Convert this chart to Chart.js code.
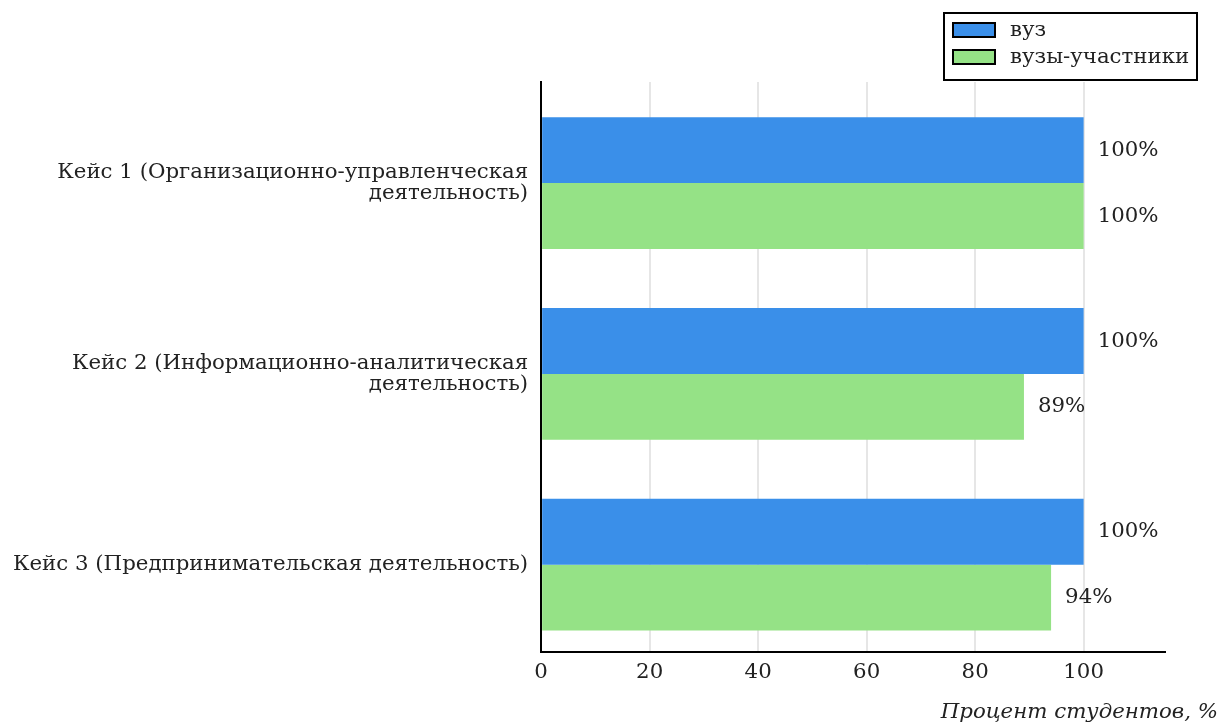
<!DOCTYPE html>
<html>
<head>
<meta charset="utf-8">
<script src="https://cdn.jsdelivr.net/npm/chart.js@4"></script>
<style>
    html, body { margin: 0; padding: 0; background: #fff; }
</style>
</head>
<body>
<canvas id="myChart" width="1222" height="724"></canvas>
<script>
// data
const categories = [
    ['Кейс 1 (Организационно-управленческая', 'деятельность)'],
    ['Кейс 2 (Информационно-аналитическая', 'деятельность)'],
    ['Кейс 3 (Предпринимательская деятельность)']
];
const seriesNames = ['вуз', 'вузы-участники'];
const vuzValues = [100, 100, 100];
const participantValues = [100, 89, 94];
const xTickValues = [0, 20, 40, 60, 80, 100];
const axisTitle = 'Процент студентов, %';

const colors = ['#3a8fe9', '#95e286'];
const fontFamily = '"DejaVu Serif", serif';
const fontSize = 21.3;

// categories sit on a numeric axis so the empty space above the first
// group can be larger than below the last one, as in the original
const toPoints = (values) => values.map((v, i) => ({ x: v, y: i }));

// value labels at the end of every bar
const barLabels = {
    id: 'barLabels',
    afterDatasetsDraw(chart) {
        const ctx = chart.ctx;
        ctx.save();
        ctx.font = fontSize + 'px ' + fontFamily;
        ctx.fillStyle = '#222';
        ctx.textAlign = 'left';
        ctx.textBaseline = 'middle';
        chart.data.datasets.forEach((ds, i) => {
            chart.getDatasetMeta(i).data.forEach((bar, j) => {
                ctx.fillText(ds.data[j].x + '%', bar.x + 14, bar.y);
            });
        });
        ctx.restore();
    }
};

// framed legend top right + axis title bottom right
const extras = {
    id: 'extras',
    afterDraw(chart) {
        const ctx = chart.ctx;
        ctx.save();
        ctx.lineWidth = 2;
        ctx.strokeStyle = '#000';
        ctx.strokeRect(944, 13, 253, 67);
        ctx.font = fontSize + 'px ' + fontFamily;
        ctx.textBaseline = 'middle';
        chart.data.datasets.forEach((ds, i) => {
            const y = 23 + i * 27;
            ctx.fillStyle = ds.backgroundColor;
            ctx.fillRect(953, y, 42, 14);
            ctx.strokeRect(953, y, 42, 14);
            ctx.fillStyle = '#222';
            ctx.fillText(ds.label, 1010, y + 7);
        });

        ctx.font = 'italic ' + fontSize + 'px ' + fontFamily;
        ctx.textAlign = 'right';
        ctx.fillText(axisTitle, chart.width - 4, 712);
        ctx.restore();
    }
};

new Chart(document.getElementById('myChart'), {
    type: 'bar',
    data: {
        datasets: [{
            label: seriesNames[0],
            data: toPoints(vuzValues),
            backgroundColor: colors[0]
        }, {
            label: seriesNames[1],
            data: toPoints(participantValues),
            backgroundColor: colors[1]
        }]
    },
    options: {
        indexAxis: 'y',
        responsive: false,
        animation: false,
        categoryPercentage: 0.69,
        barPercentage: 1.0,
        layout: {
            padding: { top: 82, right: 57, bottom: 32, left: 0 }
        },
        scales: {
            x: {
                min: 0,
                max: 115,
                ticks: {
                    stepSize: 20,
                    includeBounds: false,
                    color: '#222',
                    padding: 7,
                    font: { family: fontFamily, size: fontSize },
                    callback: (v) => xTickValues.includes(v) ? v : ''
                },
                grid: {
                    color: '#e6e6e6',
                    lineWidth: 2,
                    drawTicks: false
                },
                border: { color: '#000', width: 2 }
            },
            y: {
                type: 'linear',
                reverse: true,
                offset: false,
                min: -0.53,
                max: 2.46,
                afterBuildTicks: (axis) => {
                    axis.ticks = categories.map((c, i) => ({ value: i }));
                },
                ticks: {
                    color: '#222',
                    padding: 13,
                    font: { family: fontFamily, size: fontSize, lineHeight: 1.0 },
                    callback: (v) => categories[v]
                },
                grid: { display: false, drawTicks: false, offset: false },
                border: { color: '#000', width: 2 }
            }
        },
        plugins: {
            legend: { display: false },
            tooltip: { enabled: false }
        }
    },
    plugins: [barLabels, extras]
});
</script>
</body>
</html>
